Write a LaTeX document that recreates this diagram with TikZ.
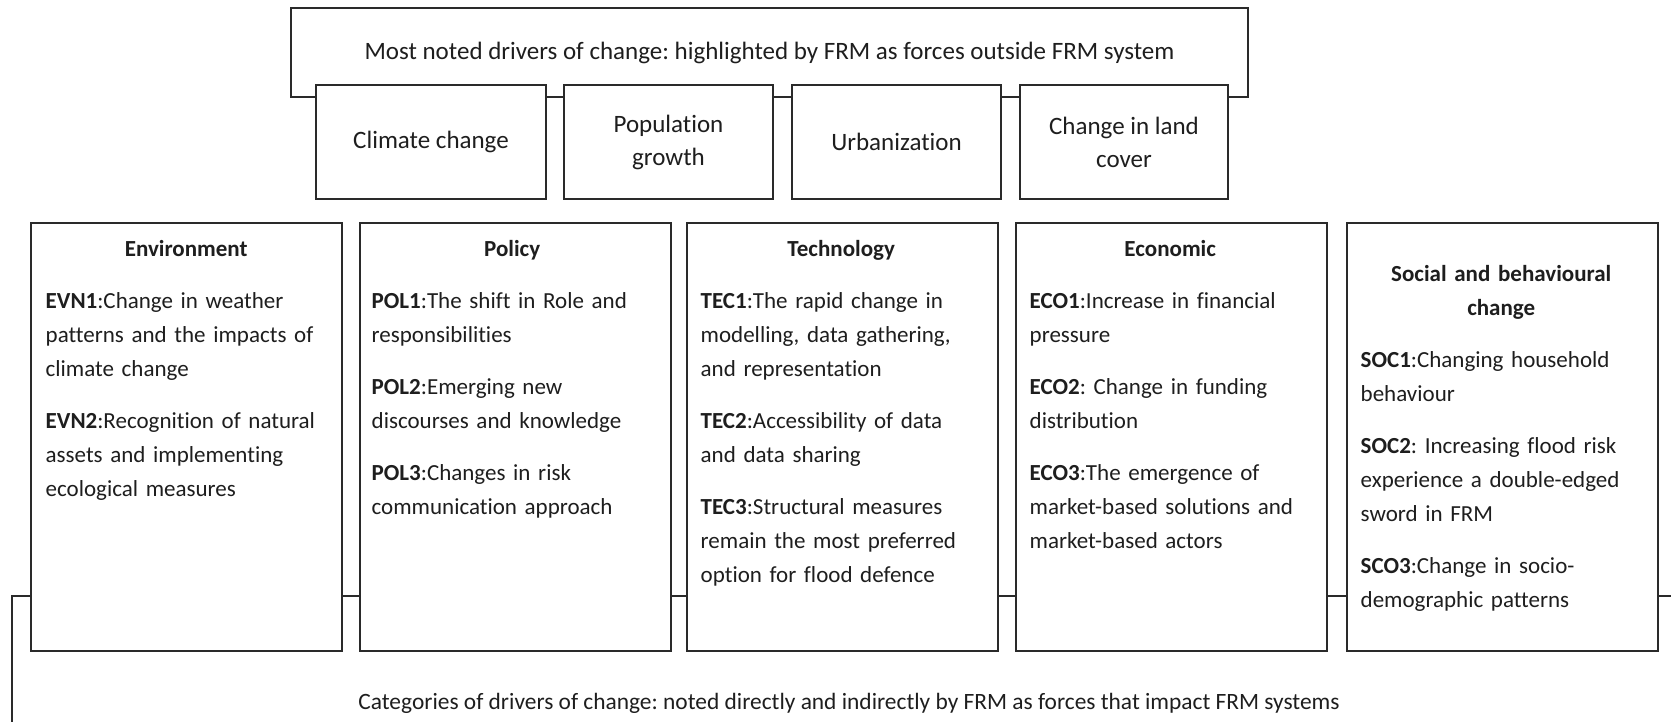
\documentclass[tikz,border=0pt]{standalone}
\usepackage{fontspec}
\setmainfont[Ligatures={TeX,NoCommon}]{Carlito}
\usetikzlibrary{positioning}
\definecolor{linegray}{HTML}{2A2A2A}
\definecolor{txtgray}{HTML}{1E1E1E}
\frenchspacing
\tikzset{
  frame/.style={
    draw=linegray, line width=2pt, rectangle, fill=white,
    inner sep=0pt, align=center, text=txtgray,
    font=\fontsize{25}{33}\selectfont
  },
  driver/.style={
    frame, minimum height=114pt
  },
  catbox/.style={
    frame, anchor=north west,
    minimum width=311pt, minimum height=428pt
  },
  cattxt/.style={
    anchor=north west, inner sep=0pt, text width=281pt,
    align=left, text=txtgray,
    font=\fontsize{23}{34}\selectfont
  },
  headtxt/.style={text=txtgray, font=\fontsize{23.4}{28}\selectfont}
}
% heading line plus the numbered items of one category
\newcommand{\cathead}[1]{\setlength{\parskip}{18pt}{\centering\bfseries #1\par}}

\begin{document}
\begin{tikzpicture}[x=1pt, y=-1pt]
  \useasboundingbox (0,0) rectangle (1671,722);

  % drivers outside the system
  \node[frame, minimum width=957pt, minimum height=89pt] (outside) at (769.5,52.5)
    {\raisebox{-2pt}{Most noted drivers of change: highlighted by FRM as forces outside FRM system}};
  \node[driver, minimum width=230pt] (climate) at (431,142) {Climate change};
  \node[driver, minimum width=209pt] (popgrowth) at (668.5,142) {Population\\growth};
  \node[driver, minimum width=209pt] (urban) at (896.5,142) {Urbanization};
  \node[driver, minimum width=208pt] (landcover) at (1124,142) {Change in land\\cover};

  % bracket round the categories
  \coordinate (brkbot) at (12,722);
  \coordinate (brkend) at (1671,596);
  \draw[line width=2pt, draw=linegray] (brkbot) |- (brkend);
  \node[headtxt] (inside) at (849,703)
    {Categories of drivers of change: noted directly and indirectly by FRM as forces that impact FRM systems};

  \node[catbox] (env) at (29.5,222) {};
  \node[catbox] (pol) at (358.5,222) {};
  \node[catbox] (tec) at (685.5,222) {};
  \node[catbox] (eco) at (1014.5,222) {};
  \node[catbox] (soc) at (1345.5,222) {};

  \node[cattxt, below right=18pt and 16pt of env.north west] (envtxt) {%
    \cathead{Environment}
    \textbf{EVN1}:Change in weather\\patterns and the impacts of\\climate change\par
    \textbf{EVN2}:Recognition of natural\\assets and implementing\\ecological measures};
  \node[cattxt, below right=18pt and 13pt of pol.north west] (poltxt) {%
    \cathead{Policy}
    \textbf{POL1}:The shift in Role and\\responsibilities\par
    \textbf{POL2}:Emerging new\\discourses and knowledge\par
    \textbf{POL3}:Changes in risk\\communication approach};
  \node[cattxt, below right=18pt and 15pt of tec.north west] (tectxt) {%
    \cathead{Technology}
    \textbf{TEC1}:The rapid change in\\modelling, data gathering,\\and representation\par
    \textbf{TEC2}:Accessibility of data\\and data sharing\par
    \textbf{TEC3}:Structural measures\\remain the most preferred\\option for flood defence};
  \node[cattxt, below right=18pt and 15pt of eco.north west] (ecotxt) {%
    \cathead{Economic}
    \textbf{ECO1}:Increase in financial\\pressure\par
    \textbf{ECO2}: Change in funding\\distribution\par
    \textbf{ECO3}:The emergence of\\market-based solutions and\\market-based actors};
  \node[cattxt, below right=43pt and 15pt of soc.north west] (soctxt) {%
    \cathead{Social and behavioural\\change}
    \textbf{SOC1}:Changing household\\behaviour\par
    \textbf{SOC2}: Increasing flood risk\\experience a double-edged\\sword in FRM\par
    \textbf{SCO3}:Change in socio-\\demographic patterns};
\end{tikzpicture}
\end{document}
